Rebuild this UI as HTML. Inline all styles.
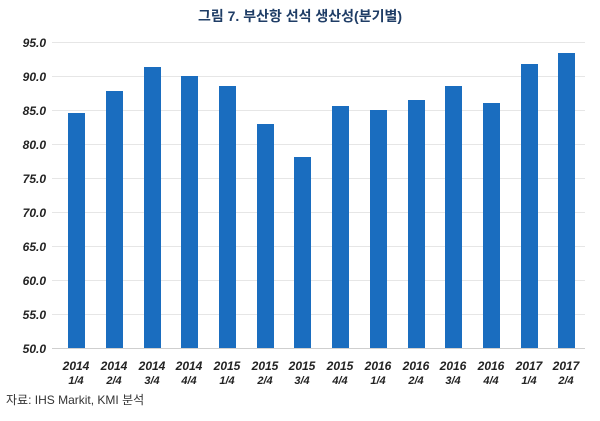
<!DOCTYPE html>
<html><head><meta charset="utf-8"><style>
html,body{margin:0;padding:0;background:#fff;}
</style></head><body>
<svg width="600" height="416" xmlns="http://www.w3.org/2000/svg" font-family="Liberation Sans, Noto Sans CJK KR, sans-serif">
<text x="300" y="21" text-anchor="middle" font-size="14" font-weight="bold" fill="#1f3d66" font-family="Liberation Sans, Noto Sans CJK KR, sans-serif">그림 7. 부산항 선석 생산성(분기별)</text>
<g stroke="#e6e6e6" stroke-width="1">
<line x1="52" x2="585" y1="42.5" y2="42.5"/><line x1="52" x2="585" y1="76.5" y2="76.5"/><line x1="52" x2="585" y1="110.5" y2="110.5"/><line x1="52" x2="585" y1="144.5" y2="144.5"/><line x1="52" x2="585" y1="178.5" y2="178.5"/><line x1="52" x2="585" y1="212.5" y2="212.5"/><line x1="52" x2="585" y1="246.5" y2="246.5"/><line x1="52" x2="585" y1="280.5" y2="280.5"/><line x1="52" x2="585" y1="314.5" y2="314.5"/>
<line x1="52" x2="585" y1="348.5" y2="348.5" stroke="#cfcfcf"/>
</g>
<g font-size="12" font-weight="bold" font-style="italic" fill="#222" text-anchor="end">
<text x="46" y="47">95.0</text><text x="46" y="81">90.0</text><text x="46" y="115">85.0</text><text x="46" y="149">80.0</text><text x="46" y="183">75.0</text><text x="46" y="217">70.0</text><text x="46" y="251">65.0</text><text x="46" y="285">60.0</text><text x="46" y="319">55.0</text><text x="46" y="353">50.0</text>
</g>
<g fill="#1a6dbf">
<rect x="68" y="113" width="17" height="235"/>
<rect x="106" y="91" width="17" height="257"/>
<rect x="144" y="67" width="17" height="281"/>
<rect x="181" y="76" width="17" height="272"/>
<rect x="219" y="86" width="17" height="262"/>
<rect x="257" y="124" width="17" height="224"/>
<rect x="294" y="157" width="17" height="191"/>
<rect x="332" y="106" width="17" height="242"/>
<rect x="370" y="110" width="17" height="238"/>
<rect x="408" y="100" width="17" height="248"/>
<rect x="445" y="86" width="17" height="262"/>
<rect x="483" y="103" width="17" height="245"/>
<rect x="521" y="64" width="17" height="284"/>
<rect x="558" y="53" width="17" height="295"/>
</g>
<g font-size="12" font-weight="bold" font-style="italic" fill="#222" text-anchor="middle">
<text x="76" y="370">2014</text><text x="76" y="384" font-size="11">1/4</text>
<text x="114" y="370">2014</text><text x="114" y="384" font-size="11">2/4</text>
<text x="152" y="370">2014</text><text x="152" y="384" font-size="11">3/4</text>
<text x="189" y="370">2014</text><text x="189" y="384" font-size="11">4/4</text>
<text x="227" y="370">2015</text><text x="227" y="384" font-size="11">1/4</text>
<text x="265" y="370">2015</text><text x="265" y="384" font-size="11">2/4</text>
<text x="302" y="370">2015</text><text x="302" y="384" font-size="11">3/4</text>
<text x="340" y="370">2015</text><text x="340" y="384" font-size="11">4/4</text>
<text x="378" y="370">2016</text><text x="378" y="384" font-size="11">1/4</text>
<text x="416" y="370">2016</text><text x="416" y="384" font-size="11">2/4</text>
<text x="453" y="370">2016</text><text x="453" y="384" font-size="11">3/4</text>
<text x="491" y="370">2016</text><text x="491" y="384" font-size="11">4/4</text>
<text x="529" y="370">2017</text><text x="529" y="384" font-size="11">1/4</text>
<text x="566" y="370">2017</text><text x="566" y="384" font-size="11">2/4</text>
</g>
<text x="6" y="404" font-size="12" fill="#333">자료: IHS Markit, KMI 분석</text>
</svg>
</body></html>
